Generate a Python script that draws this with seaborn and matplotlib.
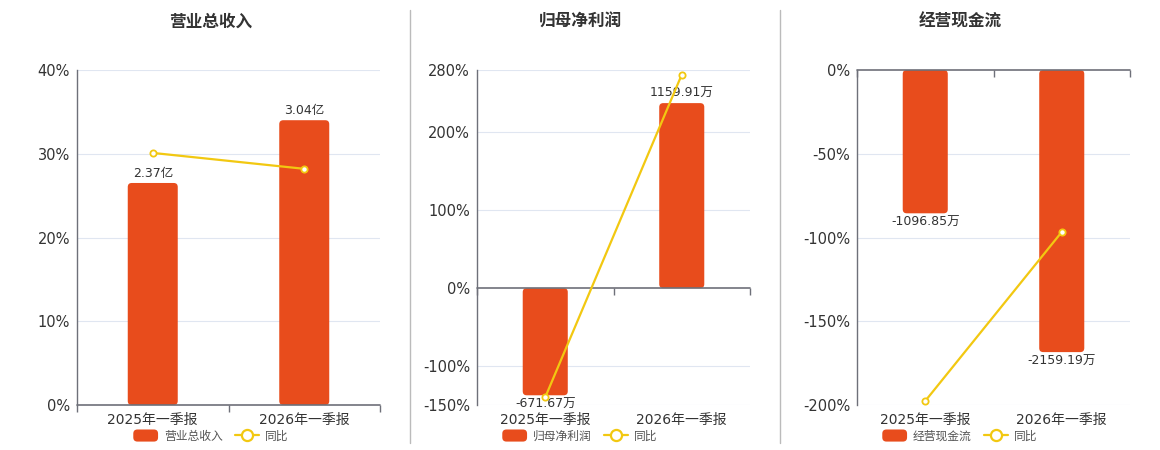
import numpy as np
import pandas as pd
import seaborn as sns
import matplotlib
matplotlib.use("Agg")
import matplotlib.pyplot as plt
from matplotlib.patches import Patch, FancyBboxPatch
from matplotlib.lines import Line2D
from matplotlib.legend_handler import HandlerPatch

sns.set_theme(style="white")
plt.rcParams['font.family'] = ['DejaVu Sans', 'Noto Sans CJK SC']

# 数据
# ==============================================================================
periods = ["2025年一季报", "2026年一季报"]

titles = ["营业总收入", "归母净利润", "经营现金流"]

revenue = [2.37, 3.04]              # 亿
revenue_labels = ["2.37亿", "3.04亿"]
revenue_yoy = [30.1, 28.2]          # %

profit = [-671.67, 1159.91]         # 万
profit_labels = ["-671.67万", "1159.91万"]
profit_yoy = [-140.0, 274.0]

cash = [-1096.85, -2159.19]         # 万
cash_labels = ["-1096.85万", "-2159.19万"]
cash_yoy = [-197.6, -96.7]

pct_ticks = [[0, 10, 20, 30, 40],
             [-150, -100, 0, 100, 200, 280],
             [-200, -150, -100, -50, 0]]

# 柱子所在的隐藏轴范围
bar_lims = [(0, 3.576), (-732.6, 1367.5), (-2564, 0)]

BAR = "#e84c1c"
LINE = "#f2c811"
AXIS = "#6e7079"
GRID = "#e0e6f1"
TXT = "#333333"

fig = plt.figure(figsize=(11.6, 4.5), dpi=100)

W, H = 1160, 450
rects = [(77, 303), (477, 273), (857, 273)]
centers = [211, 580, 960]

panels = [
    (revenue, revenue_labels, revenue_yoy),
    (profit, profit_labels, profit_yoy),
    (cash, cash_labels, cash_yoy),
]


def round_bars(ax, radius_px=4):
    # 把矩形柱子换成圆角
    fig.canvas.draw()
    bb = ax.get_window_extent()
    x0, x1 = ax.get_xlim()
    y0, y1 = ax.get_ylim()
    dx = (x1 - x0) / bb.width
    dy = (y1 - y0) / bb.height
    for p in list(ax.patches):
        x, y = p.get_x(), p.get_y()
        w, h = p.get_width(), p.get_height()
        if h < 0:
            y, h = y + h, -h
        fb = FancyBboxPatch((x, y), w, h,
                            boxstyle="round,pad=0,rounding_size=%f" % (radius_px * dx),
                            mutation_aspect=dy / dx,
                            facecolor=p.get_facecolor(), edgecolor="none", zorder=2)
        p.remove()
        ax.add_patch(fb)


def legend_box(legend, orig_handle, xdescent, ydescent, width, height, fontsize):
    return FancyBboxPatch((-xdescent, -ydescent), width, height,
                          boxstyle="round,pad=0,rounding_size=3")


for i, (vals, labs, yoy) in enumerate(panels):
    left, width = rects[i]
    rect = [left / W, (H - 405) / H, width / W, 335 / H]

    ax = fig.add_axes(rect)          # 百分比轴: 网格和刻度
    ax_bar = fig.add_axes(rect)      # 柱子
    ax_line = fig.add_axes(rect)     # 同比折线

    ticks = pct_ticks[i]
    ylim = (min(ticks), max(ticks))

    # 背景轴
    ax.set_xlim(-0.5, len(periods) - 0.5)
    ax.set_ylim(*ylim)
    ax.set_yticks(ticks)
    ax.set_yticklabels([f"{t}%" for t in ticks], color=TXT, fontsize=10.5)
    ax.set_xticks(range(len(periods)))
    ax.set_xticklabels(periods, color=TXT, fontsize=10)
    ax.tick_params(axis="both", length=0, pad=5)
    ax.tick_params(axis="x", pad=6)
    for t in ticks:
        if t != 0:
            ax.axhline(t, color=GRID, lw=0.8, zorder=0)
    for s in ["top", "right", "bottom"]:
        ax.spines[s].set_visible(False)
    ax.spines["left"].set_color(AXIS)
    ax.spines["left"].set_linewidth(1.0)
    ax.set_facecolor("none")

    # 柱子
    df = pd.DataFrame({"period": periods, "value": vals})
    sns.barplot(data=df, x="period", y="value", ax=ax_bar, color=BAR,
                width=0.33, saturation=1)
    ax_bar.set_xlim(-0.5, len(periods) - 0.5)
    ax_bar.set_ylim(*bar_lims[i])
    ax_bar.bar_label(ax_bar.containers[0], labels=labs, padding=2,
                     fontsize=9, color=TXT)
    ax_bar.axis("off")
    ax_bar.patch.set_visible(False)
    round_bars(ax_bar)

    # 零线和分类刻度
    ax_line.axhline(0, color=AXIS, lw=1.2, zorder=1)
    edges = np.arange(len(periods) + 1) - 0.5
    ax_line.plot(edges, np.zeros_like(edges), ls="", marker=3, ms=5,
                 mew=1.0, color=AXIS, clip_on=False)

    # 同比折线
    dl = pd.DataFrame({"period": periods, "yoy": yoy})
    sns.lineplot(data=dl, x="period", y="yoy", ax=ax_line, color=LINE,
                 lw=1.6, marker="o", markersize=4.5, markerfacecolor="white",
                 markeredgecolor=LINE, markeredgewidth=1.3, zorder=3)
    ax_line.set_xlim(-0.5, len(periods) - 0.5)
    ax_line.set_ylim(*ylim)
    ax_line.axis("off")
    ax_line.patch.set_visible(False)
    for ln in ax_line.lines:
        ln.set_clip_on(False)

    # 标题
    fig.text(centers[i] / W, 1 - 22 / H, titles[i], ha="center", va="center",
             fontsize=12, fontweight="bold", color=TXT)

    # 图例
    handles = [Patch(facecolor=BAR, edgecolor="none"),
               Line2D([], [], color=LINE, lw=1.6, marker="o", markersize=8,
                      markerfacecolor="white", markeredgecolor=LINE,
                      markeredgewidth=1.6)]
    fig.legend(handles, [titles[i], "同比"], loc="center",
               bbox_to_anchor=(centers[i] / W, 1 - 436 / H), ncol=2,
               frameon=False, fontsize=8.5, handlelength=2.1, handleheight=1.2,
               columnspacing=1.0, handletextpad=0.5, labelcolor="#555555",
               handler_map={Patch: HandlerPatch(patch_func=legend_box)})

# 分隔线
for xs in [410, 780]:
    fig.add_artist(Line2D([xs / W, xs / W], [1 - 10 / H, 1 - 443 / H],
                          color="#bbbbbb", lw=1.0))

fig.savefig("out.png", dpi=100)
